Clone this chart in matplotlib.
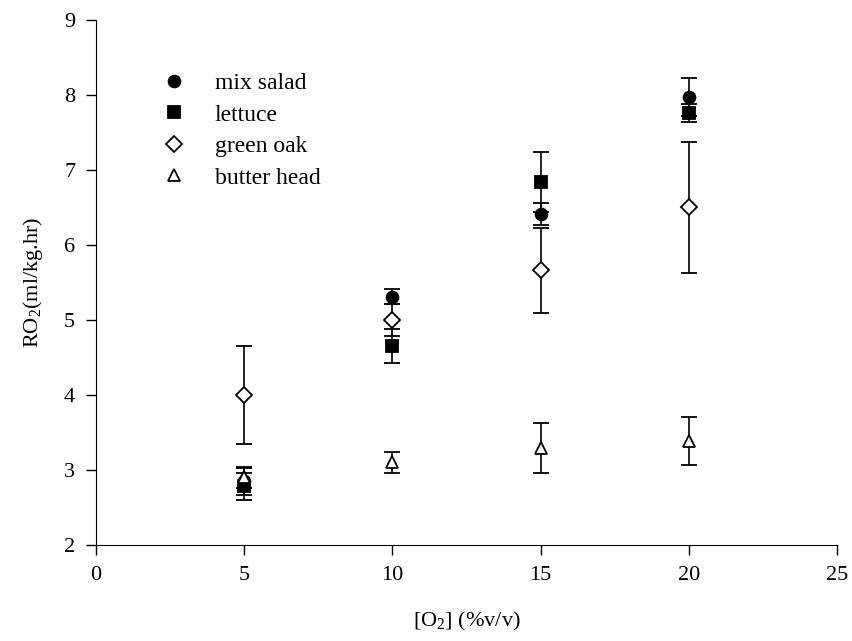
import matplotlib
matplotlib.use("Agg")
import matplotlib.pyplot as plt

plt.rcParams["font.family"] = ["Liberation Serif", "DejaVu Serif"]
plt.rcParams["mathtext.fontset"] = "custom"
plt.rcParams["mathtext.rm"] = "Liberation Serif"
plt.rcParams["mathtext.it"] = "Liberation Serif:italic"

o2 = [5, 10, 15, 20]

mix_salad = [2.85, 5.31, 6.41, 7.97]
mix_salad_err = [0.18, 0.10, 0.15, 0.25]
lettuce = [2.78, 4.65, 6.84, 7.76]
lettuce_err = [0.18, 0.23, 0.40, 0.12]
green_oak = [4.00, 5.00, 5.66, 6.50]
green_oak_err = [0.65, 0.21, 0.57, 0.87]
butter_head = [2.90, 3.10, 3.29, 3.39]
butter_head_err = [0.14, 0.14, 0.33, 0.32]

series = [
    ("mix salad", mix_salad, mix_salad_err, "o", "black", 8.5),
    ("lettuce", lettuce, lettuce_err, "s", "black", 8.0),
    ("green oak", green_oak, green_oak_err, "D", "white", 8.5),
    ("butter head", butter_head, butter_head_err, "^", "white", 9.0),
]

fig = plt.figure(figsize=(8.52, 6.41), dpi=100)
ax = fig.add_axes([0.1127, 0.1498, 0.8697, 0.819])

for name, vals, err, mk, fc, ms in series:
    ax.errorbar(o2, vals, yerr=err, fmt=mk, color="black", mfc=fc, mec="black",
                mew=1.3, ms=ms, ecolor="black", elinewidth=1.2, capsize=5.5,
                capthick=1.2, label=name, zorder=3)

ax.set_xlim(0, 25)
ax.set_ylim(2, 9)
ax.set_xticks([0, 5, 10, 15, 20, 25])
ax.set_yticks(range(2, 10))
ax.spines["top"].set_visible(False)
ax.spines["right"].set_visible(False)
ax.tick_params(direction="out", length=7, width=1, labelsize=16, pad=8)

ax.set_xlabel(r"[O$_2$] (%v/v)", fontsize=16, labelpad=18)
ax.set_ylabel(r"RO$_2$(ml/kg.hr)", fontsize=16, labelpad=14)

handles, labels = ax.get_legend_handles_labels()
handles = [h[0] for h in handles]
ax.legend(handles, labels, loc="upper left", bbox_to_anchor=(0.052, 0.94),
          frameon=False, fontsize=17, handletextpad=1.0, labelspacing=0.42,
          handlelength=1.5)

fig.savefig("out.png", dpi=100)
